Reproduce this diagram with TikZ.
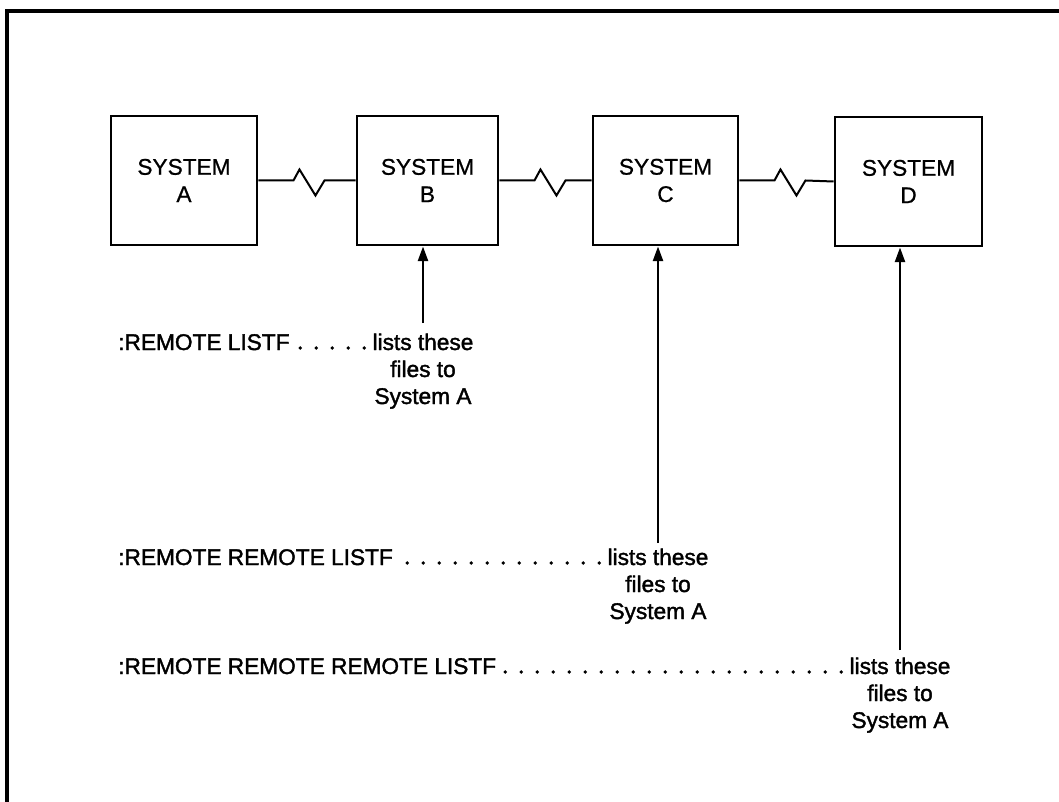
\documentclass[tikz,border=0pt]{standalone}
\usepackage{fontspec}
\setmainfont{Liberation Sans}[FakeBold=0.8]
\newfontfamily\heavysans{Liberation Sans}[FakeBold=1.6]
\usetikzlibrary{arrows.meta,calc}
\begin{document}
\begin{tikzpicture}[x=0.75pt,y=-0.75pt,
  sysbox/.style={draw,line width=2.2pt,minimum height=96.75pt,inner sep=0pt,
    align=center,font=\fontsize{17}{20.5}\selectfont},
  link/.style={line width=1.5pt,line join=miter},
  arr/.style={line width=1.8pt,-{Triangle[length=11pt,width=7.5pt]}},
  lbl/.style={font=\heavysans\fontsize{17}{20}\selectfont,inner sep=0pt},
  leader/.style={line width=2.8pt,line cap=round,dash pattern=on 0pt off 12pt}]
\useasboundingbox (0,0) rectangle (1059,802);
% frame
\draw[line width=2.5pt] (7,802) -- (7,11) -- (1059,11);
% systems
\node[sysbox,minimum width=109.5pt]  (A) at (184,180.5) {SYSTEM\\A};
\node[sysbox,minimum width=105.75pt] (B) at (427.5,180.5) {SYSTEM\\B};
\node[sysbox,minimum width=108.75pt] (C) at (665.5,180.5) {SYSTEM\\C};
\node[sysbox,minimum width=110.25pt] (D) at (908.5,181.5) {SYSTEM\\D};
% links
\draw[link] (A.east) -- ++(35,0) -- ++(6,-11) -- ++(16,26) -- ++(9,-15) -- (B.west);
\draw[link] (B.east) -- ++(35,0) -- ++(6,-11) -- ++(16,26) -- ++(9,-15) -- (C.west);
\draw[link] (C.east) -- ++(35,0) -- ++(6,-11) -- ++(16,26) -- ++(9,-15) -- (D.west);
% line 1
\node[lbl,anchor=base west] (r1) at (118,350) {:REMOTE LISTF};
\node[lbl,anchor=base] (s1a) at (423,350) {lists these};
\node[lbl,anchor=base] (s1b) at (423,377) {files to};
\node[lbl,anchor=base] (s1c) at (423,404) {System A};
\draw[leader] ($(s1a.base west)+(-8,-2)$) -- ($(r1.base east)+(8,-2)$);
\coordinate (t1) at (423,323);
\draw[arr] (t1) -- (t1 |- B.south);
% line 2
\node[lbl,anchor=base west] (r2) at (118,565) {:REMOTE REMOTE LISTF};
\node[lbl,anchor=base] (s2a) at (658,565) {lists these};
\node[lbl,anchor=base] (s2b) at (658,592) {files to};
\node[lbl,anchor=base] (s2c) at (658,619) {System A};
\draw[leader] ($(s2a.base west)+(-8,-2)$) -- ($(r2.base east)+(8,-2)$);
\coordinate (t2) at (658,543);
\draw[arr] (t2) -- (t2 |- C.south);
% line 3
\node[lbl,anchor=base west] (r3) at (118,674) {:REMOTE REMOTE REMOTE LISTF};
\node[lbl,anchor=base] (s3a) at (900,674) {lists these};
\node[lbl,anchor=base] (s3b) at (900,701) {files to};
\node[lbl,anchor=base] (s3c) at (900,728) {System A};
\draw[leader] ($(s3a.base west)+(-8,-2)$) -- ($(r3.base east)+(8,-2)$);
\coordinate (t3) at (900,650);
\draw[arr] (t3) -- (t3 |- D.south);
\end{tikzpicture}
\end{document}
